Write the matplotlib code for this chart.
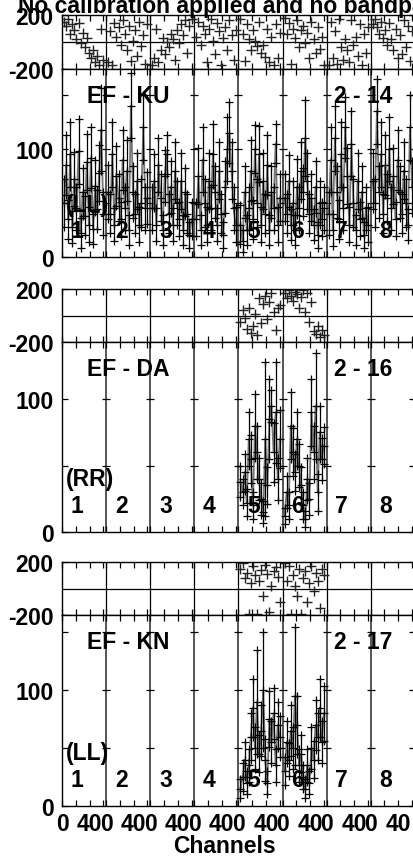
import matplotlib
matplotlib.use("Agg")
import matplotlib.pyplot as plt
from matplotlib.ticker import FixedLocator, NullFormatter

plt.rcParams['font.family'] = ['Liberation Sans', 'DejaVu Sans']
plt.rcParams['font.weight'] = 'bold'

W, H = 413, 862
NCHAN = 64
N_IF = 8

# sampled channels inside every IF
CHAN = [3, 6, 9, 12, 15, 18, 21, 24, 27, 30, 33, 36, 39, 42, 45, 48, 51, 54, 57, 60]

# ---- EF - KU (LL), all IFs ----
ku_amp = [
    [50, 85, 35, 95, 28, 72, 45, 98, 22, 60, 38, 88, 30, 92, 26, 66, 44, 78, 118, 40],
    [60, 40, 95, 30, 75, 55, 35, 90, 45, 80, 25, 140, 60, 40, 70, 30, 50, 120, 45, 55],
    [45, 70, 30, 85, 55, 25, 75, 95, 40, 65, 30, 80, 50, 35, 70, 25, 60, 40, 20, 35],
    [35, 75, 25, 90, 50, 30, 70, 45, 95, 60, 30, 80, 40, 20, 65, 100, 115, 80, 45, 30],
    [30, 15, 60, 25, 45, 80, 35, 100, 50, 95, 30, 70, 40, 85, 25, 60, 45, 105, 30, 55],
    [55, 40, 70, 30, 50, 25, 65, 45, 80, 60, 110, 70, 40, 55, 30, 65, 20, 50, 35, 45],
    [40, 90, 25, 110, 60, 35, 95, 45, 120, 75, 30, 105, 50, 25, 70, 35, 60, 20, 45, 30],
    [70, 50, 135, 60, 95, 40, 85, 55, 100, 45, 75, 35, 90, 60, 40, 80, 50, 30, 120, 65],
]
ku_err = [
    [22, 28, 18, 30, 15, 25, 20, 30, 14, 22, 18, 26, 16, 28, 14, 24, 18, 26, 38, 20],
    [25, 18, 30, 15, 28, 22, 16, 28, 20, 28, 14, 30, 24, 18, 26, 16, 22, 30, 20, 24],
    [20, 25, 15, 25, 22, 14, 24, 18, 18, 24, 15, 26, 20, 16, 26, 14, 22, 18, 12, 16],
    [16, 26, 14, 30, 22, 16, 26, 20, 28, 24, 15, 26, 18, 12, 24, 30, 28, 26, 20, 16],
    [18, 10, 24, 14, 20, 28, 18, 22, 22, 26, 16, 26, 18, 28, 14, 24, 20, 18, 16, 22],
    [22, 18, 24, 14, 20, 14, 26, 20, 26, 22, 35, 26, 18, 22, 14, 24, 12, 20, 16, 20],
    [20, 30, 15, 30, 24, 18, 30, 20, 28, 26, 16, 30, 22, 14, 26, 16, 24, 12, 20, 16],
    [26, 22, 30, 24, 30, 18, 28, 22, 30, 20, 26, 16, 28, 24, 18, 26, 22, 14, 30, 24],
]
ku_phase = [
    [150, 120, 170, 60, 130, 90, 20, 140, -10, 70, -40, 30, -80, -120, -60, -150, -100, -170, 100, -130],
    [-150, 80, -170, 140, 40, 110, -20, 160, 60, -60, 120, -140, 10, 90, -100, 150, -30, 50, -160, 130],
    [-170, -120, 100, -150, -60, 30, -90, 0, -40, 60, 20, -130, 90, -10, 130, 50, 160, -80, 120, 170],
    [40, 150, -20, 120, 60, -150, 100, 170, 10, -90, 140, 80, -170, 30, 110, -60, 160, 50, -130, 90],
    [170, 60, -140, 130, 20, -60, 90, 10, -30, 150, -80, -20, -110, 100, -150, 40, -170, 130, -120, 70],
    [180, 60, 140, -160, 100, 30, 160, -40, 90, 120, -10, 70, -120, 150, 20, -80, 110, -50, 40, -170],
    [-170, 150, -120, 80, -160, 170, -40, -130, 20, -60, -150, 160, -20, 40, -100, 130, -170, 60, -80, 110],
    [130, 170, 110, 60, 150, 30, 90, -20, 140, 20, -60, 100, -120, 50, -90, 160, -40, 120, -140, 80],
]

# ---- EF - DA (RR), only IFs 5 and 6 ----
da_ifs = [4, 5]
da_amp = [
    [38, 30, 45, 22, 70, 55, 20, 80, 60, 40, 25, 15, 70, 35, 85, 95, 60, 90, 40, 70],
    [12, 30, 20, 80, 60, 45, 70, 50, 35, 20, 10, 40, 25, 90, 60, 95, 30, 75, 55, 65],
]
da_err = [
    [12, 10, 14, 10, 20, 18, 10, 24, 20, 16, 12, 8, 58, 14, 30, 12, 22, 38, 16, 22],
    [6, 12, 10, 25, 18, 14, 20, 16, 14, 10, 6, 16, 12, 25, 20, 40, 14, 20, 16, 14],
]
da_phase = [
    [-50, 40, -20, -100, 60, -130, -80, 10, -150, 130, -60, 90, 150, -30, 100, 170, 30, -110, 60, 80],
    [170, 130, 190, 150, 110, 180, 160, 60, 140, 190, 30, 170, -50, 100, -120, -140, -80, -160, -110, -150],
]

# ---- EF - KN (LL), only IFs 5 and 6 ----
kn_ifs = [4, 5]
kn_amp = [
    [15, 25, 40, 20, 35, 60, 85, 50, 90, 45, 65, 100, 40, 20, 75, 55, 80, 35, 70, 60],
    [30, 55, 40, 65, 50, 95, 70, 35, 45, 25, 15, 35, 20, 50, 40, 70, 60, 85, 55, 80],
]
kn_err = [
    [8, 12, 15, 10, 14, 20, 25, 18, 45, 16, 22, 50, 18, 10, 24, 18, 22, 14, 20, 18],
    [12, 18, 14, 22, 18, 60, 25, 14, 16, 10, 8, 14, 10, 18, 16, 22, 20, 25, 18, 24],
]
kn_phase = [
    [150, 190, 80, 120, -190, 40, 170, 100, -190, 60, 140, -60, 180, 110, -180, 20, 130, 160, 90, -100],
    [190, 60, 170, -190, 100, 20, -60, 150, -190, 80, 130, -100, 40, 170, -20, 120, 60, -150, 150, 100],
]

baselines = ["EF - KU", "EF - DA", "EF - KN"]
times = ["2 - 14", "2 - 16", "2 - 17"]
pols = ["(LL)", "(RR)", "(LL)"]
amp_top = [174, 143, 165]

FS = 16.5
X_LEFT, X_RIGHT = 62, 62 + 8 * 44.1


def box(y0, y1):
    return [X_LEFT / W, 1 - y1 / H, (X_RIGHT - X_LEFT) / W, (y1 - y0) / H]


def style_x(ax, labels):
    major = [k * NCHAN + c for k in range(N_IF) for c in (0, 40)]
    minor = [k * NCHAN + c for k in range(N_IF + 1) for c in (20, 60)] + [N_IF * NCHAN]
    ax.xaxis.set_major_locator(FixedLocator(major))
    ax.xaxis.set_minor_locator(FixedLocator(minor))
    if labels:
        ax.set_xticklabels(["0" if i % 2 == 0 else "40" for i in range(len(major))])
    else:
        ax.xaxis.set_major_formatter(NullFormatter())
    ax.set_xlim(0, N_IF * NCHAN)
    ax.tick_params(axis='both', which='both', direction='in', top=True, right=True,
                   length=4, width=0.9, labelsize=FS)
    ax.tick_params(axis='y', pad=6)
    ax.tick_params(axis='x', pad=4)


def draw_panel(row, ifs, amps, errs, phases, y_phase, y_amp, xlabels):
    ax_p = fig.add_axes(box(*y_phase))
    ax_a = fig.add_axes(box(*y_amp))

    # phase panel
    ax_p.set_ylim(-200, 200)
    ax_p.set_yticks([-200, 200])
    ax_p.set_yticklabels(["-200", "200"])
    ax_p.axhline(0, color='k', lw=0.9)
    for k in range(1, N_IF + 1):
        ax_p.axvline(k * NCHAN, color='k', lw=0.9)
    style_x(ax_p, False)

    # amplitude panel
    ax_a.set_ylim(0, amp_top[row])
    ax_a.yaxis.set_major_locator(FixedLocator([0, 100]))
    ax_a.yaxis.set_minor_locator(FixedLocator([50, 150]))
    for k in range(1, N_IF + 1):
        ax_a.axvline(k * NCHAN, color='#555555', lw=1.4, zorder=1)
        ax_a.plot([k * NCHAN] * 3, [50, 100, 150], '_', color='k', ms=6, mew=0.9, zorder=2)
    style_x(ax_a, xlabels)

    for i, k in enumerate(ifs):
        x = [k * NCHAN + c for c in CHAN]
        a = amps[i]
        hi = [v + e for v, e in zip(a, errs[i])]
        lo = [max(v - e, 1) for v, e in zip(a, errs[i])]
        ax_a.plot(x, a, color='#777777', lw=1.3, zorder=3)
        ax_a.vlines(x, lo, hi, color='k', lw=0.9, zorder=4)
        ax_a.plot(x, a, '+', color='k', ms=6, mew=0.9, zorder=5)
        ax_a.plot(x, hi, '+', color='k', ms=6, mew=0.9, zorder=5)
        ax_a.plot(x, lo, '+', color='k', ms=6, mew=0.9, zorder=5)
        ax_p.plot(x, phases[i], '+', color='#222222', ms=7, mew=1.0)

    for sp in list(ax_a.spines.values()) + list(ax_p.spines.values()):
        sp.set_linewidth(1.0)

    # labels inside the amplitude panel
    ax_a.text(0.07, 0.86, baselines[row], transform=ax_a.transAxes, fontsize=FS,
              fontweight='bold', va='center', ha='left')
    ax_a.text(0.77, 0.86, times[row], transform=ax_a.transAxes, fontsize=FS,
              fontweight='bold', va='center', ha='left')
    ax_a.text(0.01, 0.28, pols[row], transform=ax_a.transAxes, fontsize=FS,
              fontweight='bold', va='center', ha='left', zorder=6)
    for k in range(N_IF):
        ax_a.text(k * NCHAN + 22, 0.14, str(k + 1), transform=ax_a.get_xaxis_transform(),
                  fontsize=FS, fontweight='bold', va='center', ha='center', zorder=6)
    return ax_p, ax_a


fig = plt.figure(figsize=(W / 100, H / 100), dpi=100)

draw_panel(0, list(range(N_IF)), ku_amp, ku_err, ku_phase, (16, 70), (70, 258), False)
draw_panel(1, da_ifs, da_amp, da_err, da_phase, (290, 343), (343, 533), False)
draw_panel(2, kn_ifs, kn_amp, kn_err, kn_phase, (563, 616), (616, 807), True)

fig.text(18 / W, 1 - 13 / H, "No calibration applied and no bandpass applied",
         fontsize=FS, fontweight='bold', va='baseline', ha='left')
fig.text(224 / W, 1 - 847 / H, "Channels", fontsize=FS, fontweight='bold',
         va='center', ha='center')

fig.savefig("out.png", dpi=100)
